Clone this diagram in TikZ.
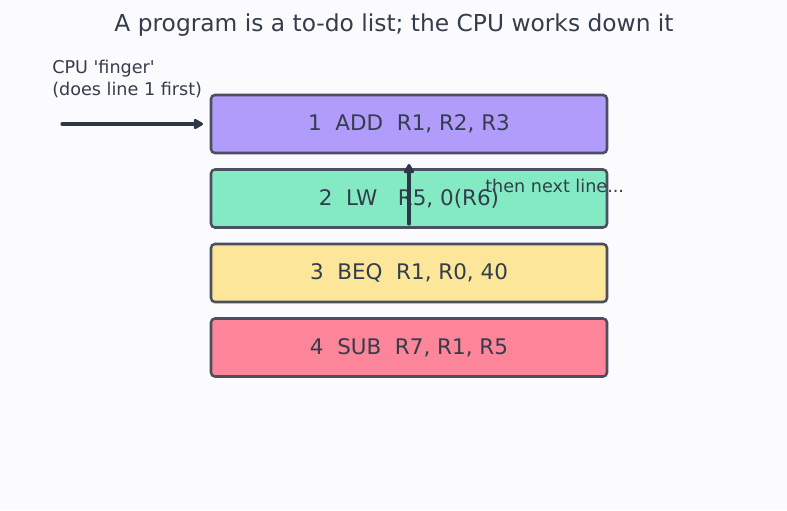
\documentclass[tikz,border=0pt]{standalone}
\usepackage{fontspec}
\setmainfont{DejaVu Sans}
\usetikzlibrary{arrows.meta}
\definecolor{bg}{HTML}{FBFBFE}
\definecolor{ink}{HTML}{333D4B}
\definecolor{edge}{HTML}{4A5060}
\definecolor{arr}{HTML}{2D3748}
\definecolor{cA}{HTML}{B19CFB}
\definecolor{cB}{HTML}{84EAC4}
\definecolor{cC}{HTML}{FCE699}
\definecolor{cD}{HTML}{FC8599}
\begin{document}
\begin{tikzpicture}[x=0.75pt,y=-0.75pt,
  instr/.style={draw=edge,line width=1.9pt,rounded corners=3pt,minimum width=396*0.75pt,minimum height=58*0.75pt,inner sep=0pt,text=ink,font=\fontsize{16.1}{19}\selectfont},
  lbl/.style={text=ink,inner sep=0pt},
  pointer/.style={draw=arr,line width=2.3pt,line cap=round,-{Triangle[length=8pt,width=8.5pt,round]}}]
\fill[bg] (0,0) rectangle (787,510);
\useasboundingbox (0,0) rectangle (787,510);
\node[lbl,font=\fontsize{17.5}{21}\selectfont] (title) at (394,25) {A program is a to-do list; the CPU works down it};
\node[instr,fill=cA] (l1) at (409,124) {1\ \ ADD\ \ R1, R2, R3};
\node[instr,fill=cB] (l2) at (409,198.5) {2\ \ LW\ \ \ R5, 0(R6)};
\node[instr,fill=cC] (l3) at (409,273) {3\ \ BEQ\ \ R1, R0, 40};
\node[instr,fill=cD] (l4) at (409,347.5) {4\ \ SUB\ \ R7, R1, R5};
\node[lbl,anchor=west,align=left,font=\fontsize{13.2}{16}\selectfont] (finger) at (52,79) {CPU \textquotesingle finger\textquotesingle\\(does line 1 first)};
\coordinate (fs) at (62,124);
\draw[pointer,shorten >=5pt] (fs) -- (l1.west);
\coordinate (us) at (409,224);
\coordinate (ue) at (409,164);
\draw[pointer] (us) -- (ue);
\node[lbl,anchor=west,font=\fontsize{13.2}{16}\selectfont] (next) at (485,186) {then next line...};
\end{tikzpicture}
\end{document}
